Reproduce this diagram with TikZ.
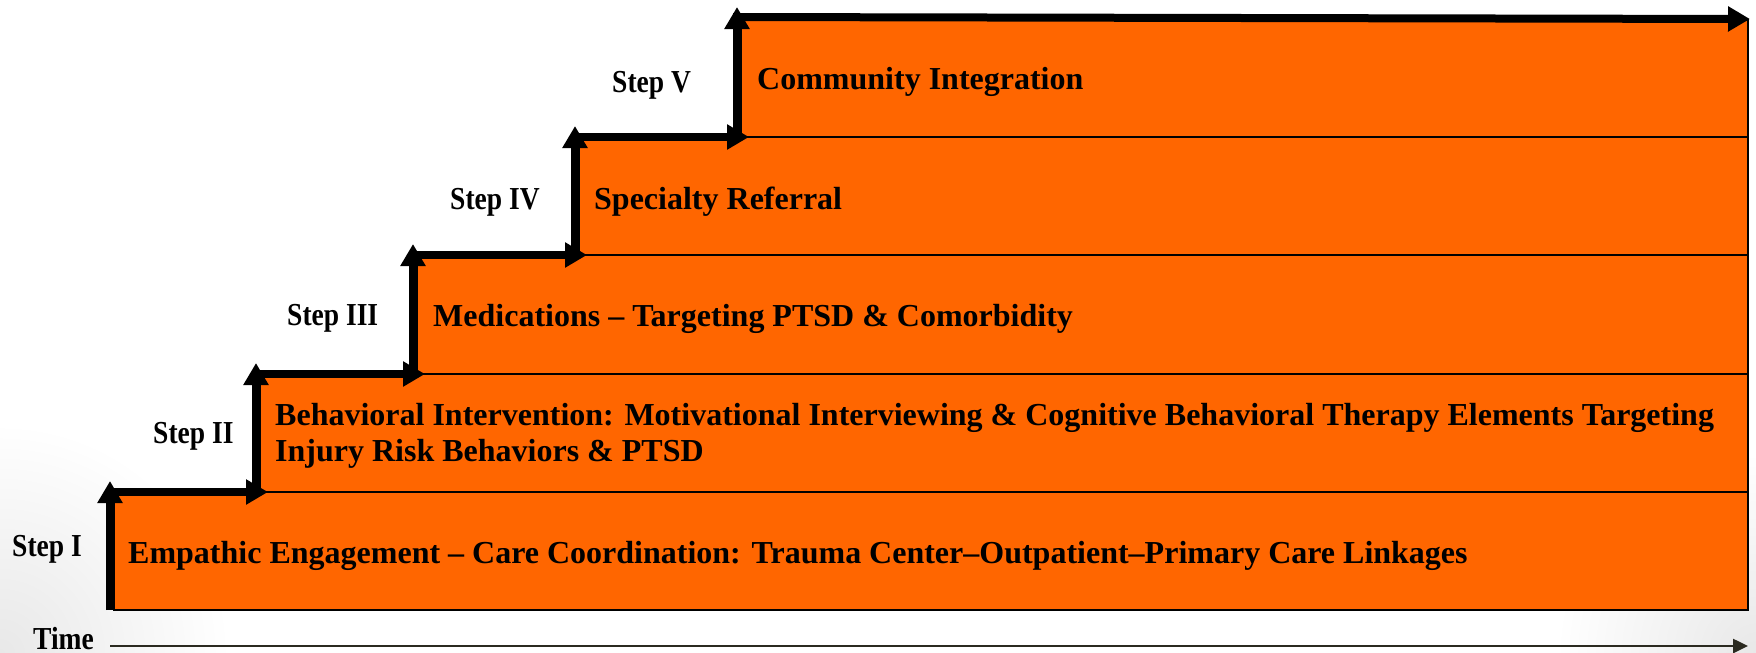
\documentclass[tikz,border=0pt]{standalone}
\usepackage{graphicx}
\usepackage{fontspec}
\setmainfont{Liberation Serif}
\usetikzlibrary{arrows.meta}
\definecolor{stepfill}{HTML}{FF6600}
\definecolor{timeline}{HTML}{2B2A20}
\newcommand{\narrowtext}[1]{\scalebox{0.86}[1]{#1}}
\begin{document}
\begin{tikzpicture}[x=1pt,y=-1pt,
  level/.style={fill=stepfill,draw=black,line width=1.6pt},
  stair/.style={line width=8pt,-{Triangle[length=22pt,width=24pt]}},
  lab/.style={inner sep=0pt,anchor=base west,font=\fontsize{32}{38}\selectfont\bfseries}]
\useasboundingbox (0,0) rectangle (1756,653);
\fill[white] (0,0) rectangle (1756,653);
% soft slide shading in the lower corners
\shade[inner color=black!9,outer color=white] (0,653) circle (230);
\shade[inner color=black!9,outer color=white] (1756,653) circle (200);

% stacked levels
\draw[level] (114,492) rectangle (1748,610);
\draw[level] (260,374) rectangle (1748,492);
\draw[level] (417,255) rectangle (1748,374);
\draw[level] (579,137) rectangle (1748,255);
\draw[level] (741,20) rectangle (1748,137);

% staircase arrows: risers (r) and treads (h)
\coordinate (r1a) at (110,610); \coordinate (r1b) at (110,481);
\coordinate (h1a) at (106,492); \coordinate (h1b) at (268,492);
\coordinate (r2a) at (256,492); \coordinate (r2b) at (256,363);
\coordinate (h2a) at (252,374); \coordinate (h2b) at (425,374);
\coordinate (r3a) at (413,374); \coordinate (r3b) at (413,244);
\coordinate (h3a) at (409,255); \coordinate (h3b) at (587,255);
\coordinate (r4a) at (575,255); \coordinate (r4b) at (575,126);
\coordinate (h4a) at (571,137); \coordinate (h4b) at (749,137);
\coordinate (r5a) at (737,137); \coordinate (r5b) at (737,7);
\coordinate (h5a) at (733,17);  \coordinate (h5b) at (1750,19);
\foreach \n in {1,...,5}{
  \draw[stair] (h\n a) -- (h\n b);
  \draw[stair] (r\n a) -- (r\n b);
}

% time axis
\coordinate (t0) at (110,646);
\coordinate (t1) at (1748,646);
\draw[timeline,line width=2.5pt,-{Triangle[length=15pt,width=14pt]}] (t0) -- (t1);
\node[lab] (time) at (33,649) {\narrowtext{Time}};

% step labels
\node[lab] (s1) at (12,556) {\narrowtext{Step I}};
\node[lab] (s2) at (153,443) {\narrowtext{Step II}};
\node[lab] (s3) at (287,325) {\narrowtext{Step III}};
\node[lab] (s4) at (450,209) {\narrowtext{Step IV}};
\node[lab] (s5) at (612,92) {\narrowtext{Step V}};

% level texts
\node[lab] (l1) at (128,563) {Empathic Engagement – Care Coordination: Trauma Center–Outpatient–Primary Care Linkages};
\node[lab] (l2a) at (275,425) {Behavioral Intervention: Motivational Interviewing \& Cognitive Behavioral Therapy Elements Targeting};
\node[lab] (l2b) at (275,461) {Injury Risk Behaviors \& PTSD};
\node[lab] (l3) at (433,326) {Medications – Targeting PTSD \& Comorbidity};
\node[lab] (l4) at (594,209) {Specialty Referral};
\node[lab] (l5) at (757,89) {Community Integration};
\end{tikzpicture}
\end{document}
